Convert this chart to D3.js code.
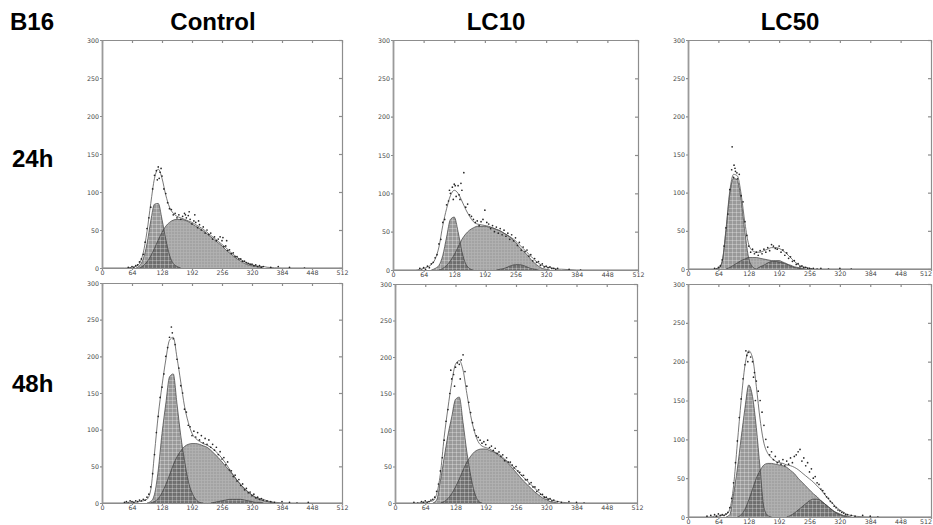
<!DOCTYPE html>
<html>
<head>
<meta charset="utf-8">
<script src="https://cdnjs.cloudflare.com/ajax/libs/d3/7.8.5/d3.min.js"></script>
<style>
body { margin:0; background:#fff; }
svg { display:block; }
.head { font-family:'Liberation Sans', Arial, sans-serif; font-weight:bold; font-size:24px; fill:#000; }
.ax text { font-family:'DejaVu Sans', sans-serif; font-size:6.3px; fill:#444; }
.ax { opacity:0.99; }
.ax path, .ax line { stroke:#8c8c8c; stroke-width:1.2; }
</style>
</head>
<body>
<div id="fig"></div>
<script>
// column / row headings
var cellLine = "B16";
var treatments = ["Control", "LC10", "LC50"];
var times = ["24h", "48h"];
var xTicks = [0, 64, 128, 192, 256, 320, 384, 448, 512];
var yTicks = [0, 50, 100, 150, 200, 250, 300];

// [DNA channel, cell count]
// Control 24h
var g1A = [[72,0],[80,3],[88,12],[96,32],[104,62],[112,84],[120,85],[128,64],[136,38],[144,17],[152,6],[160,2],[168,0]];
var sA = [[80,0],[88,3],[96,8],[104,16],[112,26],[120,37],[128,47],[136,55],[144,60],[152,63],[160,64],[168,64],[176,63],[184,61],[192,58],[200,55],[208,52],[216,49],[224,45],[232,41],[240,37],[248,33],[256,29],[264,24],[272,20],[280,16],[288,12],[296,9],[304,6],[312,4],[320,3],[328,2],[336,1],[344,0]];
var g2A = [];
var fitA = [[0,0],[48,0],[56,0],[64,1],[72,2],[80,6],[88,20],[96,48],[104,85],[112,118],[120,130],[128,118],[136,96],[144,80],[152,72],[160,68],[168,66],[176,64],[184,62],[192,60],[200,57],[208,54],[216,51],[224,47],[232,43],[240,39],[248,35],[256,31],[264,27],[272,22],[280,18],[288,14],[296,11],[304,8],[312,6],[320,4],[328,3],[336,2],[344,2],[352,1],[384,0],[512,0]];
var dotsA = [[56,1],[60,0],[64,2],[68,1],[72,3],[76,4],[80,8],[84,12],[88,18],[92,34],[96,52],[100,66],[104,80],[108,104],[112,122],[116,128],[118,116],[120,133],[122,118],[124,126],[126,131],[128,121],[132,104],[136,98],[140,86],[144,78],[148,77],[152,70],[156,72],[160,66],[164,70],[168,64],[172,68],[176,72],[178,70],[180,66],[184,69],[186,74],[188,64],[192,58],[196,62],[198,70],[200,60],[204,53],[206,62],[208,57],[212,50],[216,54],[220,46],[224,50],[228,44],[232,46],[236,38],[240,41],[244,36],[248,38],[252,41],[256,36],[258,40],[260,28],[264,29],[266,36],[268,23],[272,24],[276,19],[280,20],[284,15],[288,15],[292,12],[296,12],[300,9],[304,9],[308,7],[312,6],[316,5],[320,5],[324,3],[328,4],[332,2],[336,3],[340,1],[344,2],[360,1],[376,2],[400,1],[432,0]];

// LC10 24h
var g1B = [[80,0],[88,2],[96,6],[104,19],[112,43],[120,66],[128,69],[136,50],[144,24],[152,8],[160,2],[168,0]];
var sB = [[96,0],[104,2],[112,6],[120,12],[128,20],[136,30],[144,40],[152,47],[160,52],[168,55],[176,57],[184,57],[192,57],[200,56],[208,55],[216,53],[224,51],[232,48],[240,45],[248,41],[256,36],[264,30],[272,25],[280,20],[288,14],[296,9],[304,5],[312,2],[320,1],[328,0]];
var g2B = [[216,0],[224,1],[232,2],[240,4],[248,6],[256,7],[264,7],[272,6],[280,4],[288,2],[296,1],[304,0]];
var fitB = [[0,0],[48,0],[56,1],[64,2],[72,4],[80,7],[88,14],[96,30],[104,58],[112,80],[120,97],[128,104],[136,100],[144,90],[152,79],[160,70],[168,63],[176,60],[184,59],[192,58],[200,57],[208,55],[216,53],[224,51],[232,48],[240,45],[248,42],[256,38],[264,33],[272,28],[280,23],[288,18],[296,13],[304,9],[312,6],[320,4],[328,3],[336,2],[344,1],[352,1],[384,0],[512,0]];
var dotsB = [[56,2],[60,0],[64,3],[68,1],[72,5],[76,3],[80,8],[84,10],[88,16],[92,20],[96,34],[100,40],[104,62],[108,66],[112,85],[116,90],[118,104],[120,100],[124,108],[126,92],[128,112],[130,110],[132,96],[136,110],[138,98],[140,92],[142,113],[144,104],[148,127],[152,82],[156,86],[160,72],[164,70],[168,66],[172,62],[176,64],[180,58],[184,63],[188,66],[192,78],[196,62],[200,60],[204,54],[208,58],[212,50],[216,56],[220,48],[224,54],[228,46],[232,52],[236,44],[240,48],[244,40],[248,46],[252,38],[256,42],[260,32],[264,36],[268,26],[272,30],[276,24],[280,26],[284,18],[288,20],[292,12],[296,15],[300,10],[304,11],[308,6],[312,8],[316,4],[320,5],[324,3],[328,4],[332,2],[336,2],[340,1],[344,2],[368,1],[392,0]];

// LC50 24h
var g1C = [[64,0],[72,10],[80,50],[88,98],[96,119],[104,116],[112,90],[120,48],[128,14],[136,3],[144,0]];
var sC = [[80,0],[88,2],[96,5],[104,8],[112,11],[120,13],[128,15],[136,15],[144,15],[152,14],[160,13],[168,12],[176,11],[184,10],[192,9],[200,8],[208,6],[216,5],[224,3],[232,2],[240,1],[248,0]];
var g2C = [[144,0],[152,3],[160,5],[168,8],[176,10],[184,11],[192,11],[200,9],[208,7],[216,4],[224,2],[232,1],[240,0]];
var fitC = [[0,0],[48,0],[56,0],[64,1],[72,10],[80,52],[88,102],[96,124],[104,122],[112,98],[120,60],[128,32],[136,24],[144,22],[152,22],[160,24],[168,26],[176,28],[184,28],[192,27],[200,24],[208,20],[216,15],[224,10],[232,6],[240,3],[248,2],[256,1],[264,0],[512,0]];
var dotsC = [[56,1],[60,0],[64,2],[68,4],[72,12],[76,30],[80,54],[84,72],[88,104],[92,130],[93,160],[96,120],[97,136],[99,132],[100,128],[103,126],[104,118],[108,124],[112,96],[116,88],[120,62],[124,44],[128,30],[132,22],[136,26],[140,20],[144,22],[148,18],[152,24],[156,20],[160,26],[164,22],[168,28],[172,24],[176,32],[180,30],[184,27],[188,26],[192,30],[196,22],[200,25],[204,18],[208,21],[212,14],[216,16],[220,10],[224,11],[228,6],[232,7],[236,3],[240,4],[244,2],[248,2],[252,1],[256,1],[260,0],[264,1],[272,0],[280,1],[296,0],[320,1],[344,0]];

// Control 48h
var g1D = [[96,0],[104,2],[112,12],[120,45],[128,95],[136,135],[144,172],[152,176],[160,135],[168,92],[176,58],[184,30],[192,14],[200,5],[208,1],[216,0]];
var sD = [[104,0],[112,2],[120,6],[128,14],[136,25],[144,38],[152,52],[160,63],[168,71],[176,77],[184,80],[192,81],[200,81],[208,80],[216,78],[224,76],[232,72],[240,67],[248,62],[256,56],[264,50],[272,44],[280,38],[288,31],[296,25],[304,20],[312,15],[320,11],[328,7],[336,5],[344,3],[352,2],[360,1],[368,0]];
var g2D = [[232,0],[240,1],[248,2],[256,3],[264,4],[272,5],[280,5],[288,5],[296,5],[304,4],[312,3],[320,2],[328,1],[336,1],[344,0]];
var fitD = [[0,0],[48,0],[56,1],[64,1],[72,1],[80,2],[88,3],[96,5],[104,18],[112,68],[120,120],[128,160],[136,195],[144,222],[152,226],[160,198],[168,165],[176,132],[184,110],[192,95],[200,88],[208,84],[216,81],[224,79],[232,76],[240,72],[248,67],[256,61],[264,54],[272,46],[280,38],[288,31],[296,25],[304,19],[312,15],[320,11],[328,8],[336,6],[344,5],[352,3],[368,1],[400,0],[512,0]];
var dotsD = [[48,1],[52,2],[56,0],[60,3],[64,2],[68,1],[72,3],[76,2],[80,4],[84,3],[88,5],[92,4],[96,8],[100,12],[104,22],[108,40],[112,66],[116,96],[120,118],[124,144],[128,158],[132,176],[136,200],[140,212],[144,226],[148,240],[150,232],[152,224],[156,216],[160,196],[164,184],[168,160],[172,150],[176,128],[180,124],[184,106],[188,104],[192,92],[196,98],[200,90],[204,96],[208,86],[212,92],[216,82],[220,88],[224,80],[228,86],[232,76],[236,80],[240,72],[244,76],[248,66],[252,70],[256,60],[260,62],[264,52],[268,56],[272,45],[276,44],[280,36],[284,38],[288,30],[292,32],[296,24],[300,26],[304,18],[308,20],[312,14],[316,15],[320,10],[324,12],[328,7],[332,8],[336,5],[340,6],[344,4],[352,3],[360,2],[368,1],[384,2],[400,1],[416,0],[440,1]];

// LC10 48h
var g1E = [[80,0],[88,4],[96,30],[104,62],[112,93],[120,118],[128,142],[136,145],[144,110],[152,70],[160,38],[168,15],[176,3],[184,0]];
var sE = [[96,0],[104,2],[112,6],[120,13],[128,22],[136,33],[144,45],[152,56],[160,64],[168,70],[176,73],[184,74],[192,74],[200,72],[208,70],[216,67],[224,63],[232,59],[240,54],[248,48],[256,42],[264,36],[272,30],[280,25],[288,20],[296,15],[304,11],[312,7],[320,5],[328,2],[336,1],[344,0]];
var g2E = [];
var fitE = [[0,0],[48,0],[56,1],[64,1],[72,2],[80,3],[88,12],[96,40],[104,90],[112,130],[120,165],[128,190],[136,195],[144,182],[152,150],[160,120],[168,98],[176,84],[184,78],[192,76],[200,74],[208,71],[216,68],[224,65],[232,60],[240,56],[248,51],[256,46],[264,40],[272,35],[280,30],[288,25],[296,20],[304,15],[312,10],[320,7],[328,5],[336,3],[344,2],[352,1],[384,0],[512,0]];
var dotsE = [[40,1],[48,0],[56,2],[60,1],[64,3],[68,1],[72,2],[76,4],[80,5],[84,8],[88,16],[92,26],[96,44],[100,62],[104,86],[108,112],[112,128],[116,150],[118,182],[120,170],[124,176],[126,160],[128,186],[132,192],[136,190],[138,170],[140,196],[144,203],[148,180],[152,160],[156,138],[160,124],[164,110],[168,100],[172,92],[176,90],[180,86],[184,82],[188,84],[192,80],[196,86],[200,76],[204,78],[208,72],[212,75],[216,68],[220,70],[224,64],[228,66],[232,58],[236,62],[240,56],[244,56],[248,52],[252,48],[256,50],[260,44],[264,42],[268,38],[272,38],[276,32],[280,32],[284,26],[288,28],[292,22],[296,22],[300,16],[304,18],[308,12],[312,12],[316,8],[320,8],[324,5],[328,6],[332,3],[336,4],[344,2],[352,1],[368,2],[384,1],[400,0]];

// LC50 48h
var g1F = [[80,0],[88,3],[96,30],[104,62],[112,102],[120,140],[128,170],[136,155],[144,115],[152,62],[160,12],[168,2],[176,0]];
var sF = [[104,0],[112,3],[120,10],[128,22],[136,36],[144,50],[152,60],[160,67],[168,69],[176,69],[184,68],[192,67],[200,66],[208,64],[216,60],[224,56],[232,50],[240,45],[248,40],[256,35],[264,30],[272,26],[280,21],[288,17],[296,13],[304,9],[312,6],[320,4],[328,2],[336,1],[344,0]];
var g2F = [[208,0],[216,2],[224,5],[232,9],[240,13],[248,17],[256,21],[264,23],[272,23],[280,21],[288,17],[296,13],[304,9],[312,5],[320,3],[328,1],[336,0]];
var fitF = [[0,0],[48,0],[56,1],[64,1],[72,2],[80,3],[88,10],[96,40],[104,95],[112,150],[120,195],[128,214],[136,205],[144,168],[152,125],[160,95],[168,82],[176,76],[184,72],[192,70],[200,69],[208,67],[216,66],[224,64],[232,61],[240,57],[248,53],[256,49],[264,45],[272,40],[280,35],[288,29],[296,23],[304,18],[312,13],[320,9],[328,6],[336,3],[344,2],[352,1],[384,0],[512,0]];
var dotsF = [[40,1],[48,2],[56,3],[60,1],[64,4],[68,2],[72,3],[76,2],[80,4],[84,6],[88,12],[92,24],[96,44],[100,70],[104,98],[108,128],[112,152],[116,178],[120,196],[122,214],[124,208],[126,200],[128,212],[132,206],[136,200],[138,180],[140,186],[142,150],[144,175],[148,162],[152,150],[156,135],[160,118],[164,100],[168,90],[172,80],[176,84],[180,74],[184,78],[188,70],[192,72],[196,68],[200,74],[204,66],[208,72],[212,68],[216,76],[220,70],[224,78],[228,80],[232,84],[236,87],[240,72],[244,76],[248,66],[252,70],[256,58],[260,62],[264,50],[268,52],[272,44],[276,42],[280,36],[284,34],[288,30],[292,26],[296,24],[300,20],[304,18],[308,14],[312,12],[316,9],[320,8],[324,6],[328,5],[332,3],[336,3],[344,2],[352,1],[368,2],[384,1],[400,0]];

var series = [
  {g1: g1A, s: sA, g2: g2A, fit: fitA, dots: dotsA},
  {g1: g1B, s: sB, g2: g2B, fit: fitB, dots: dotsB},
  {g1: g1C, s: sC, g2: g2C, fit: fitC, dots: dotsC},
  {g1: g1D, s: sD, g2: g2D, fit: fitD, dots: dotsD},
  {g1: g1E, s: sE, g2: g2E, fit: fitE, dots: dotsE},
  {g1: g1F, s: sF, g2: g2F, fit: fitF, dots: dotsF}
];

// plot frames: left, right, top, bottom (px)
var boxes = [
  [102, 342, 40, 268], [393, 638, 40, 270], [688, 931, 40, 269],
  [102, 342, 283, 503], [395, 637, 284, 503], [688, 931, 284, 517]
];

var svg = d3.select("#fig").append("svg").attr("width", 933).attr("height", 525);

var defs = svg.append("defs");
var pS = defs.append("pattern").attr("id", "patS").attr("patternUnits", "userSpaceOnUse")
  .attr("width", 3).attr("height", 3);
pS.append("rect").attr("width", 3).attr("height", 3).attr("fill", "#a3a3a3");
pS.append("path").attr("d", "M0,0.5H3M0.5,0V3").attr("stroke", "#b2b2b2").attr("stroke-width", 0.8);

var pG = defs.append("pattern").attr("id", "patG").attr("patternUnits", "userSpaceOnUse")
  .attr("width", 4).attr("height", 4);
pG.append("rect").attr("width", 4).attr("height", 4).attr("fill", "rgba(60,60,60,0.52)");
pG.append("path").attr("d", "M0,0.5H4M0.5,0V4").attr("stroke", "rgba(255,255,255,0.3)").attr("stroke-width", 0.9);

// headings
svg.append("text").attr("class", "head").attr("x", 10).attr("y", 30).text(cellLine);
var colCx = [213, 496, 790];
treatments.forEach(function(t, i) {
  svg.append("text").attr("class", "head").attr("x", colCx[i]).attr("y", 30)
    .attr("text-anchor", "middle").text(t);
});
var rowY = [167, 392];
times.forEach(function(t, i) {
  svg.append("text").attr("class", "head").attr("x", 12).attr("y", rowY[i]).text(t);
});

series.forEach(function(d, i) {
  var b = boxes[i];
  var x = d3.scaleLinear().domain([0, 512]).range([b[0], b[1]]);
  var y = d3.scaleLinear().domain([0, 300]).range([b[3], b[2]]);
  var g = svg.append("g");

  var area = d3.area().curve(d3.curveMonotoneX)
    .x(function(p) { return x(p[0]); }).y0(y(0)).y1(function(p) { return y(p[1]); });
  var line = d3.line().curve(d3.curveMonotoneX)
    .x(function(p) { return x(p[0]); }).y(function(p) { return y(p[1]); });

  g.append("path").datum(d.s).attr("d", area).attr("fill", "url(#patS)");
  if (d.g2.length) g.append("path").datum(d.g2).attr("d", area).attr("fill", "url(#patG)");
  g.append("path").datum(d.g1).attr("d", area).attr("fill", "url(#patG)");

  [d.s, d.g2, d.g1].forEach(function(c) {
    if (!c.length) return;
    g.append("path").datum(c).attr("d", line)
      .attr("fill", "none").attr("stroke", "#3c3c3c").attr("stroke-width", 0.7);
  });

  g.append("path").datum(d.fit).attr("d", line)
    .attr("fill", "none").attr("stroke", "#555").attr("stroke-width", 0.8);

  g.selectAll(".dot").data(d.dots).enter().append("circle")
    .attr("class", "dot")
    .attr("cx", function(p) { return x(p[0]); })
    .attr("cy", function(p) { return y(p[1]); })
    .attr("r", 0.85).attr("fill", "#262626");

  // frame
  var xb = g.append("g").attr("class", "ax").attr("transform", "translate(0," + b[3] + ")")
    .call(d3.axisBottom(x).tickValues(xTicks).tickSize(2).tickSizeOuter(0).tickPadding(1));
  // right-most panels run to the page edge: keep the last label inside
  if (b[1] > 925) {
    xb.selectAll(".tick").filter(function(v) { return v === 512; }).select("text")
      .attr("text-anchor", "end").attr("dx", "0.5");
  }
  g.append("g").attr("class", "ax").attr("transform", "translate(0," + b[2] + ")")
    .call(d3.axisBottom(x).tickValues(xTicks).tickSize(3).tickSizeOuter(0).tickFormat(""));
  g.append("g").attr("class", "ax").attr("transform", "translate(" + b[1] + ",0)")
    .call(d3.axisLeft(y).tickValues(yTicks).tickSize(3).tickSizeOuter(0).tickFormat(""));
  var yl = g.append("g").attr("class", "ax").attr("transform", "translate(" + b[0] + ",0)")
    .call(d3.axisLeft(y).tickValues(yTicks).tickSize(2).tickSizeOuter(0).tickPadding(1));
  yl.select(".domain").style("stroke-width", 1.8).style("stroke", "#999");
});
</script>
</body>
</html>
